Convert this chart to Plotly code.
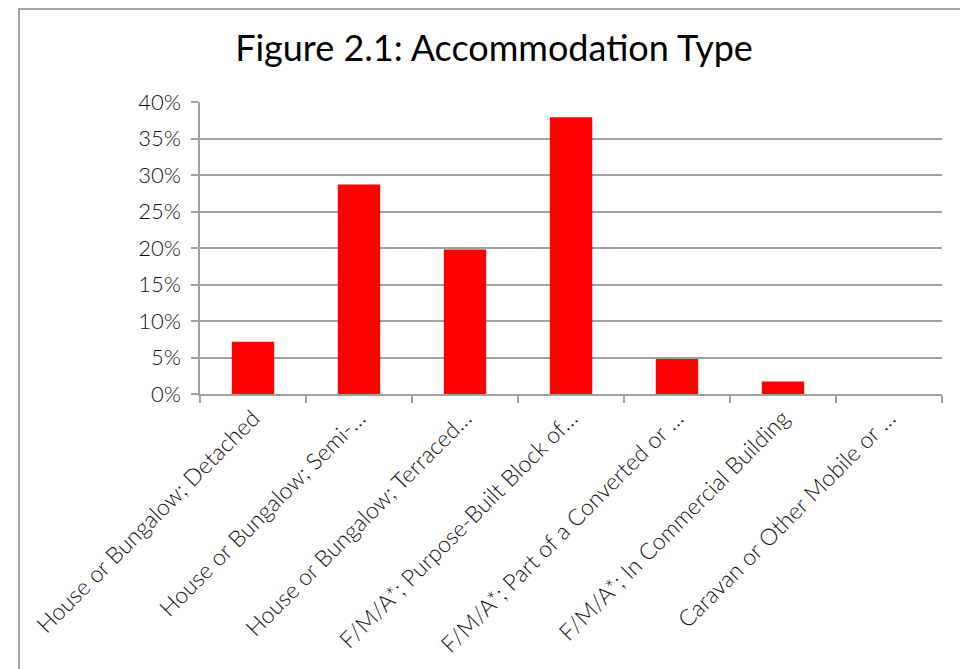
import plotly.graph_objects as go

categories = [
    "House or Bungalow; Detached",
    "House or Bungalow; Semi-…",
    "House or Bungalow; Terraced…",
    "F/M/A*; Purpose-Built Block of…",
    "F/M/A*; Part of a Converted or …",
    "F/M/A*; In Commercial Building",
    "Caravan or Other Mobile or …",
]
values = [0.0715, 0.287, 0.198, 0.379, 0.048, 0.017, 0.0]
y_ticks = [0, 0.05, 0.10, 0.15, 0.20, 0.25, 0.30, 0.35, 0.40]
y_tick_labels = ["0%", "5%", "10%", "15%", "20%", "25%", "30%", "35%", "40%"]
title_text = "Figure 2.1: Accommodation Type"

FONT = "Lato"

fig = go.Figure(
    go.Bar(
        x=categories,
        y=values,
        marker=dict(color="#ff0000", line=dict(width=0)),
    )
)

# page body has an 8px margin, so the figure sits at (8, 8)
OFF = 8
W, H = 960, 661
L, T = 200 - OFF, 102 - OFF
pw, ph = 742, 292
R = W - L - pw
B = H - T - ph


def px_to_paper_x(px):
    return (px - OFF - L) / pw


def px_to_paper_y(py):
    return (T + ph - (py - OFF)) / ph


fig.update_layout(
    width=W,
    height=H,
    margin=dict(l=L, r=R, t=T, b=B, autoexpand=False),
    paper_bgcolor="white",
    plot_bgcolor="white",
    bargap=0.6,
    showlegend=False,
    title=dict(
        text=title_text,
        x=px_to_paper_x(494),
        xref="paper",
        xanchor="center",
        y=1 - (48 - OFF) / H,
        yanchor="middle",
        font=dict(family=FONT, size=36, color="#000000", weight=400),
    ),
    font=dict(family=FONT, color="#111111"),
    xaxis=dict(
        type="category",
        automargin=False,
        tickson="boundaries",
        ticks="outside",
        ticklen=7,
        tickcolor="#a0a0a0",
        tickwidth=1.5,
        showline=True,
        linecolor="#a0a0a0",
        linewidth=1.5,
        showgrid=False,
        tickangle=-45,
        tickfont=dict(family=FONT, size=23, color="#111111", weight=300),
        range=[-0.5, 6.5],
    ),
    yaxis=dict(
        automargin=False,
        range=[0, 0.40],
        tickvals=y_ticks,
        ticktext=y_tick_labels,
        ticks="outside",
        ticklen=7,
        tickcolor="#a0a0a0",
        tickwidth=1.5,
        showline=True,
        linecolor="#a0a0a0",
        linewidth=1.5,
        showgrid=True,
        gridcolor="#a0a0a0",
        gridwidth=1.5,
        zeroline=False,
        ticklabelstandoff=6,
        tickfont=dict(family=FONT, size=22, color="#111111", weight=300),
    ),
    shapes=[
        dict(
            type="rect",
            xref="paper",
            yref="paper",
            x0=px_to_paper_x(19),
            x1=px_to_paper_x(1000),
            y0=px_to_paper_y(720),
            y1=px_to_paper_y(9),
            line=dict(color="#a6a6a6", width=2),
            fillcolor="rgba(0,0,0,0)",
            layer="below",
        )
    ],
)

fig.write_html("out.html")
